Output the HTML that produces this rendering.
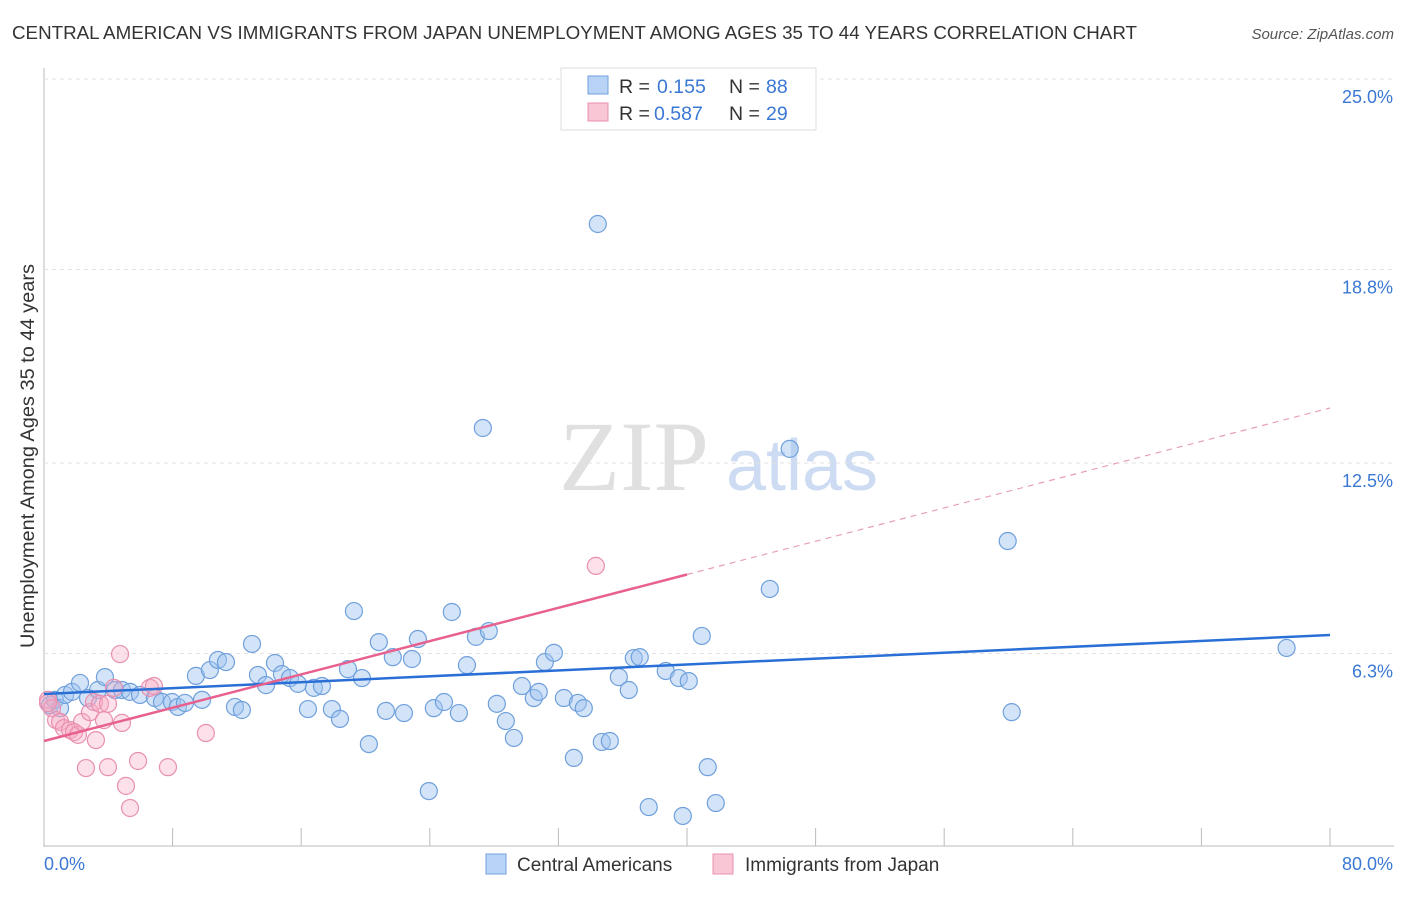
<!DOCTYPE html>
<html><head><meta charset="utf-8"><style>
body{margin:0;background:#fff;font-family:"Liberation Sans",sans-serif;}
svg text{font-family:"Liberation Sans",sans-serif;}
</style></head><body>
<svg id="c" width="1406" height="892">
<text x="12" y="39" font-size="18" fill="#333" textLength="1125" lengthAdjust="spacingAndGlyphs">CENTRAL AMERICAN VS IMMIGRANTS FROM JAPAN UNEMPLOYMENT AMONG AGES 35 TO 44 YEARS CORRELATION CHART</text>
<text x="1394" y="39" font-size="15" fill="#555" text-anchor="end" font-style="italic">Source: ZipAtlas.com</text>
<text x="634" y="490" font-size="100" fill="#e0e0e0" text-anchor="middle" style="font-family:'Liberation Serif',serif">ZIP</text>
<text x="802" y="490" font-size="72" fill="#cddcf2" text-anchor="middle">atlas</text>
<text x="34" y="456" font-size="19.5" fill="#333" text-anchor="middle" transform="rotate(-90 34 456)" textLength="384" lengthAdjust="spacingAndGlyphs">Unemployment Among Ages 35 to 44 years</text>
<g id="grid"></g><g id="pts"></g><g id="lines"></g>
<g>
<rect x="561" y="68" width="255" height="62" fill="#fff" stroke="#ddd"/>
<rect x="588" y="76" width="20" height="18" fill="#b8d3f5" stroke="#6fa0dc"/>
<text x="619" y="93" font-size="19.5" fill="#333">R = </text><text x="657" y="93" font-size="19.5" fill="#3a78d4">0.155</text>
<text x="729" y="93" font-size="19.5" fill="#333">N = </text><text x="766" y="93" font-size="19.5" fill="#3a78d4">88</text>
<rect x="588" y="103" width="20" height="18" fill="#f9c6d6" stroke="#e890b0"/>
<text x="619" y="120" font-size="19.5" fill="#333">R = </text><text x="654" y="120" font-size="19.5" fill="#3a78d4">0.587</text>
<text x="729" y="120" font-size="19.5" fill="#333">N = </text><text x="766" y="120" font-size="19.5" fill="#3a78d4">29</text>
</g>
<g>
<rect x="486" y="854" width="20" height="20" fill="#b8d3f5" stroke="#6fa0dc"/>
<text x="517" y="871" font-size="19" fill="#333">Central Americans</text>
<rect x="713" y="854" width="20" height="20" fill="#f9c6d6" stroke="#e890b0"/>
<text x="745" y="871" font-size="19" fill="#333">Immigrants from Japan</text>
</g>
</svg>
<script>
const xTicks=[0,8,16,24,32,40,48,56,64,72,80];
const yTicks=[6.3,12.5,18.8,25.0];
const yTickLabels=["6.3%","12.5%","18.8%","25.0%"];
const blueX=[0.37,0.68,1.0,1.31,1.74,2.24,2.74,3.36,3.79,4.42,4.85,5.35,5.97,6.9,7.34,7.96,8.33,8.77,9.45,9.83,10.32,10.82,11.32,11.88,12.31,12.94,13.31,13.81,14.37,14.8,15.3,15.8,16.42,16.79,17.29,17.91,18.41,18.91,19.28,19.78,20.21,20.83,21.27,21.7,22.39,22.89,23.26,23.94,24.25,24.88,25.37,25.81,26.31,26.87,27.3,27.67,28.17,28.73,29.23,29.73,30.47,30.78,31.16,31.72,32.34,32.96,33.21,33.58,34.45,34.7,35.2,35.76,36.38,36.69,37.06,37.62,38.68,39.49,39.74,40.11,40.92,41.29,41.79,45.15,46.39,59.95,60.2,77.3];
const blueY=[4.62,4.79,4.52,4.95,5.05,5.34,4.85,5.11,5.53,5.11,5.11,5.05,4.95,4.85,4.72,4.72,4.56,4.69,5.57,4.79,5.76,6.09,6.02,4.56,4.46,6.61,5.6,5.27,5.99,5.63,5.5,5.31,4.49,5.18,5.24,4.49,4.17,5.79,7.68,5.5,3.35,6.67,4.43,6.18,4.36,6.12,6.77,1.82,4.52,4.72,7.65,4.36,5.92,6.84,13.64,7.03,4.66,4.1,3.55,5.24,4.85,5.05,6.02,6.32,4.85,2.9,4.69,4.52,20.28,3.42,3.45,5.53,5.11,6.15,6.18,1.3,5.73,5.5,1.01,5.4,6.87,2.6,1.43,8.4,12.96,9.96,4.39,6.48];
const pinkX=[0.25,0.5,0.75,1.0,1.24,1.62,1.87,2.11,2.36,2.61,2.86,3.11,3.23,3.48,3.73,3.98,3.98,4.35,4.73,4.85,5.1,5.35,5.85,6.59,6.84,7.71,10.07,34.33,0.25];
const pinkY=[4.79,4.52,4.13,4.07,3.87,3.81,3.74,3.65,4.07,2.57,4.39,4.72,3.48,4.66,4.13,4.66,2.6,5.18,6.28,4.04,1.99,1.27,2.8,5.18,5.24,2.6,3.71,9.15,4.69];
const blueTrend=[4.98,6.9];
const pinkTrend=[3.45,14.29];
const sx=v=>44+v*16.075, sy=v=>847-v*30.72;
const NS="http://www.w3.org/2000/svg";
function mk(tag,at,parent){const e=document.createElementNS(NS,tag);for(const k in at)e.setAttribute(k,at[k]);parent.appendChild(e);return e;}
const svg=document.getElementById('c'),grid=document.getElementById('grid'),pts=document.getElementById('pts'),lines=document.getElementById('lines');
let ax=mk('line',{x1:44,y1:68,x2:44,y2:847,stroke:'#bbb'},grid);


let bx=mk('line',{x1:44,y1:846,x2:1394,y2:846,stroke:'#bbb'},grid);


yTicks.forEach((t,i)=>{
 const l=mk('line',{x1:44,y1:sy(t),x2:1394,y2:sy(t),stroke:'#e2e2e2','stroke-dasharray':'4,4'},grid);
 
 
 const tx=mk('text',{x:1393,y:sy(t)+24,'font-size':18,fill:'#3a78d4','text-anchor':'end'},grid);
 tx.textContent=yTickLabels[i];
 
 
});
xTicks.forEach(t=>{
 const l=mk('line',{x1:sx(t),y1:828,x2:sx(t),y2:846,stroke:'#bbb'},grid);
 
 
});
const xl0=mk('text',{x:44,y:870,'font-size':18,fill:'#3a78d4'},grid);xl0.textContent='0.0%';


const xl1=mk('text',{x:1393,y:870,'font-size':18,fill:'#3a78d4','text-anchor':'end'},grid);xl1.textContent='80.0%';


blueX.forEach((x,i)=>{
 const c=mk('circle',{cx:sx(x),cy:sy(blueY[i]),r:8.5,fill:'rgba(160,196,240,0.45)',stroke:'#6fa0dc','stroke-width':1.2},pts);
 
 
});
pinkX.forEach((x,i)=>{
 const c=mk('circle',{cx:sx(x),cy:sy(pinkY[i]),r:8.5,fill:'rgba(245,170,195,0.35)',stroke:'#e890b0','stroke-width':1.2},pts);
 
 
});
const bl=mk('line',{x1:sx(0),y1:sy(blueTrend[0]),x2:sx(80),y2:sy(blueTrend[1]),stroke:'#2a6fd6','stroke-width':2.5},lines);


const pAt=x=>pinkTrend[0]+(pinkTrend[1]-pinkTrend[0])*x/80;
const pl=mk('line',{x1:sx(0),y1:sy(pAt(0)),x2:sx(40),y2:sy(pAt(40)),stroke:'#e8608e','stroke-width':2.5},lines);


const pd=mk('line',{x1:sx(40),y1:sy(pAt(40)),x2:sx(80),y2:sy(pAt(80)),stroke:'#e8a0b8','stroke-width':1.2,'stroke-dasharray':'6,5'},lines);


</script>
</body></html>
